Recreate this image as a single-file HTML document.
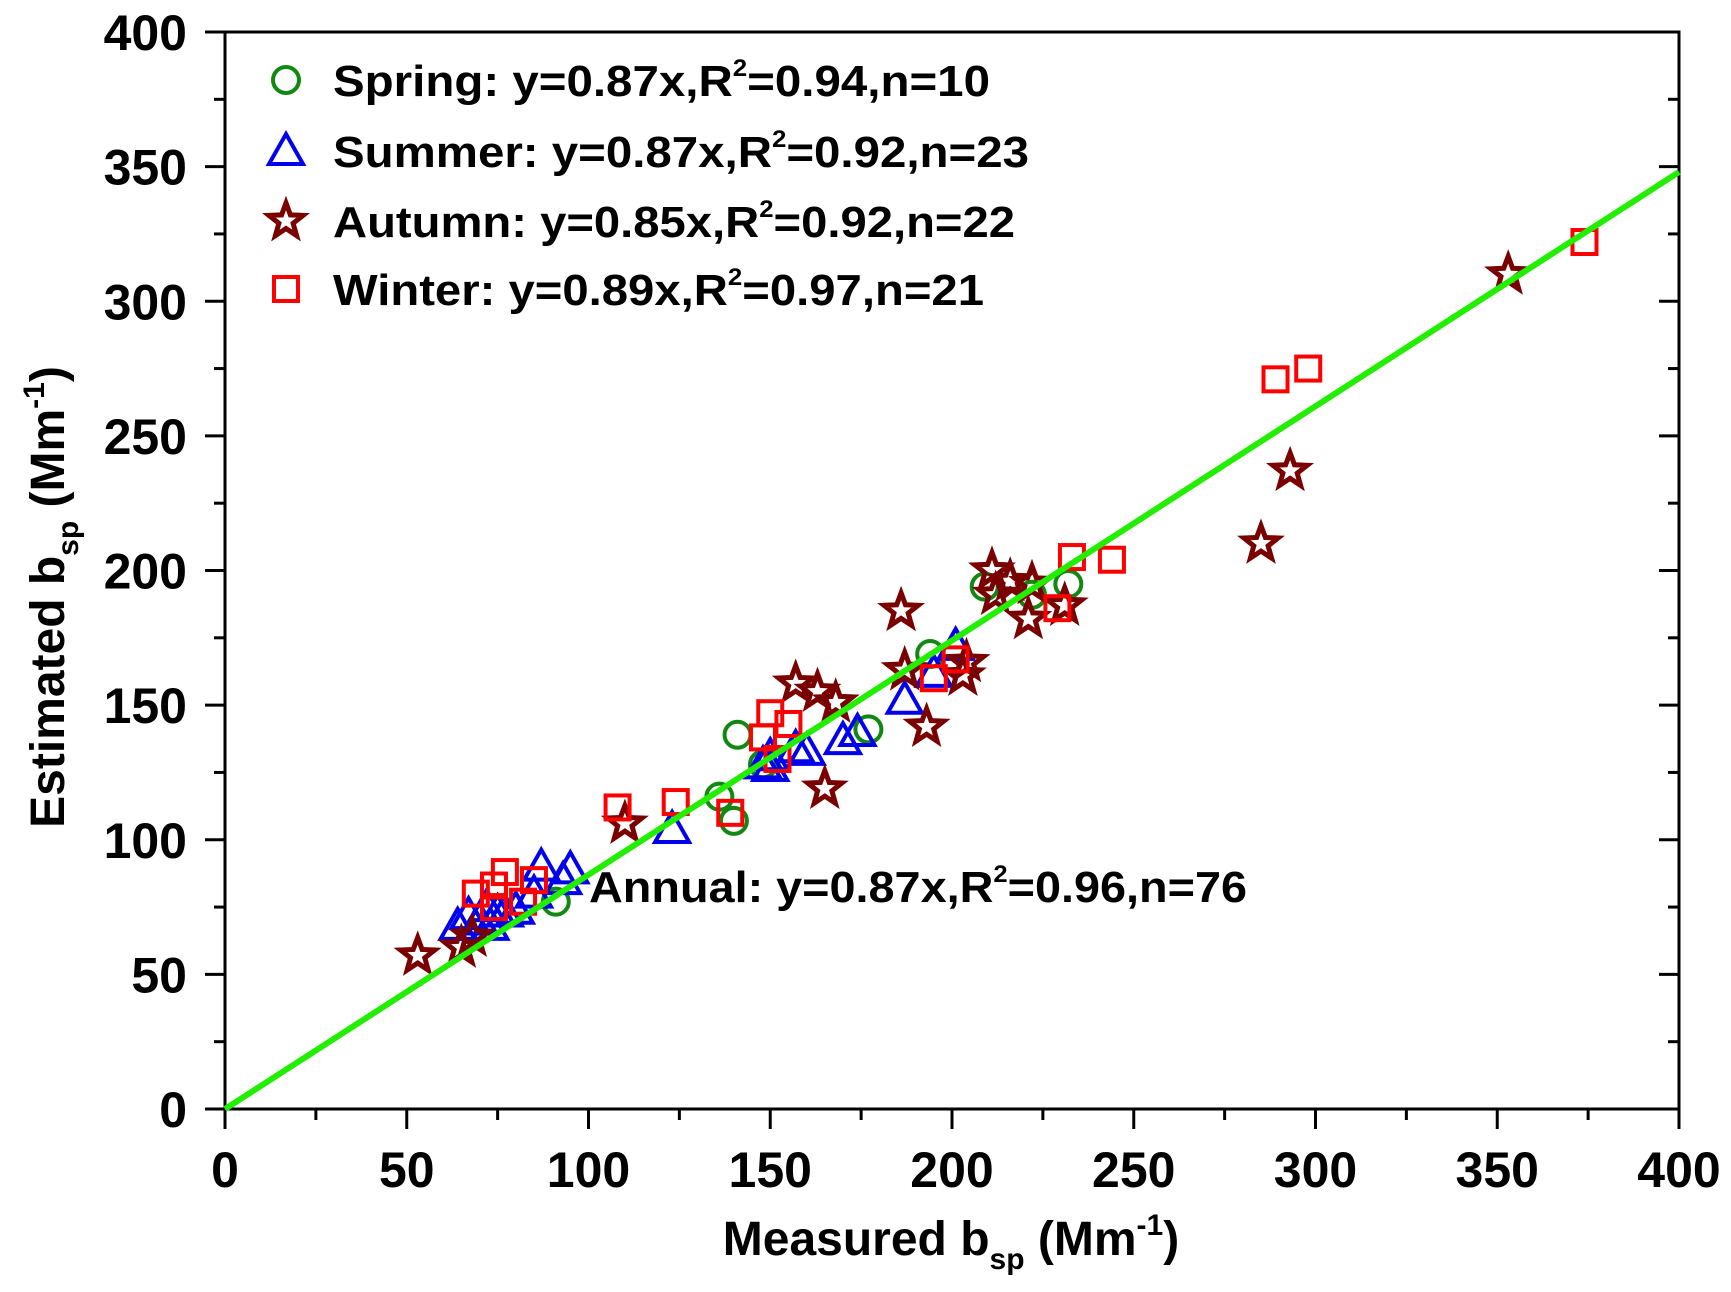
<!DOCTYPE html>
<html><head><meta charset="utf-8"><style>html,body{margin:0;padding:0;background:#fff}svg{display:block}text{font-family:"Liberation Sans",sans-serif;font-weight:bold}</style></head>
<body>
<svg id="chart" width="1731" height="1292" viewBox="0 0 1731 1292" xmlns="http://www.w3.org/2000/svg"></svg>
<script>
const xTicks=[0,50,100,150,200,250,300,350,400];
const yTicks=[0,50,100,150,200,250,300,350,400];
const springX=[141,136,140,91,148,177,194,209,232,222];
const springY=[139,116,107,77,128,141,169,194,195,191];
const summerX=[64,67,70,73,75,80,87,95,93,85,123,148,150,157,160,170,174,187,195,201,150,77,72];
const summerY=[68,72,70,68,73,74,90,89,85,80,104,128,127,134,133,137,140,152,162,172,131,73,75];
const autumnX=[53,65,110,157,163,168,165,186,193,187,203,204,211,212,216,222,221,231,285,293,353,68];
const autumnY=[57,60,106,158,155,151,119,185,142,163,161,166,200,191,196,195,182,187,210,237,310,64];
const winterX=[69,74,77,74,82,85,108,124,139,148,150,152,195,201,229,233,244,289,298,374,155];
const winterY=[80,83,88,75,77,85,112,114,110,138,147,130,160,167,186,205,204,271,275,322,143];
const fitSlope=[0.87];
const L=225,R=1679,T=32,B=1109;
const sx=v=>L+v/400*(R-L), sy=v=>B-v/400*(B-T);
const svg=document.getElementById('chart');const NS='http://www.w3.org/2000/svg';
function mk(tag,attrs,parent){const e=document.createElementNS(NS,tag);for(const k in attrs)e.setAttribute(k,attrs[k]);(parent||svg).appendChild(e);return e;}
// frame
let fr=mk('rect',{x:L,y:T,width:R-L,height:B-T,fill:'none',stroke:'#000','stroke-width':3});


for(let v=0;v<=400;v+=25){
  const major=v%50===0;
  let t=mk('line',{x1:sx(v),x2:sx(v),y1:B,y2:B+(major?20:11),stroke:'#000','stroke-width':3});
  
  
  let u=mk('line',{x1:L,x2:L-(major?20:11),y1:sy(v),y2:sy(v),stroke:'#000','stroke-width':3});
  
  
  let w=mk('line',{x1:R,x2:R-(major?20:11),y1:sy(v),y2:sy(v),stroke:'#000','stroke-width':3});
  
  
}
xTicks.forEach(v=>{let t=mk('text',{x:sx(v),y:1187,'font-size':50,'text-anchor':'middle'});t.textContent=v;
  
  });
yTicks.forEach(v=>{let t=mk('text',{x:187,y:sy(v)+18,'font-size':50,'text-anchor':'end'});t.textContent=v;
  
  });
// axis titles
let xt=mk('text',{x:951,y:1255,'font-size':48,'text-anchor':'middle'});
xt.innerHTML='Measured b<tspan font-size="30" dy="14">sp</tspan><tspan dy="-14"> (Mm</tspan><tspan font-size="30" dy="-20">-1</tspan><tspan dy="20">)</tspan>';


let yt=mk('text',{x:0,y:0,'font-size':48,'text-anchor':'middle',transform:'translate(64,597) rotate(-90)'});
yt.innerHTML='Estimated b<tspan font-size="30" dy="14">sp</tspan><tspan dy="-14"> (Mm</tspan><tspan font-size="30" dy="-20">-1</tspan><tspan dy="20">)</tspan>';


// markers
function circle(x,y,g){mk('circle',{cx:x,cy:y,r:13,fill:'none',stroke:'#118811','stroke-width':4},g);}
function tri(x,y,g){mk('polygon',{points:`${x},${y-17} ${x+17},${y+13} ${x-17},${y+13}`,fill:'none',stroke:'#0000ee','stroke-width':4},g);}
function star(x,y,g){let p=[];for(let i=0;i<10;i++){const r=i%2?7.5:18,a=-Math.PI/2+i*Math.PI/5;p.push((x+r*Math.cos(a)).toFixed(1)+','+(y+r*Math.sin(a)).toFixed(1));}
  mk('polygon',{points:p.join(' '),fill:'none',stroke:'#7a0000','stroke-width':5,'stroke-linejoin':'miter'},g);}
function sq(x,y,g){mk('rect',{x:x-12,y:y-12,width:24,height:24,fill:'none',stroke:'#ff0000','stroke-width':4},g);}
const series=[['spring',springX,springY,circle],['summer',summerX,summerY,tri],['autumn',autumnX,autumnY,star],['winter',winterX,winterY,sq]];
series.forEach(([n,xs,ys,f])=>{const g=mk('g',{});
  
  
  xs.forEach((v,i)=>f(sx(v),sy(ys[i]),g));});
// fit line
let fl=mk('line',{x1:sx(0),y1:sy(0),x2:sx(400),y2:sy(400*fitSlope[0]),stroke:'#22ee00','stroke-width':6});


// legend
const legY=[80,151,221,289];
const legText=[['Spring: y=0.87x,R','=0.94,n=10',990],['Summer: y=0.87x,R','=0.92,n=23',1029],['Autumn: y=0.85x,R','=0.92,n=22',1015],['Winter: y=0.89x,R','=0.97,n=21',984]];
const lg=mk('g',{});


[circle,tri,star,sq].forEach((f,i)=>{f(286,legY[i],lg);
  let t=mk('text',{x:333,y:legY[i]+16,'font-size':44,textLength:legText[i][2]-333,lengthAdjust:'spacingAndGlyphs'},lg);
  t.innerHTML=legText[i][0]+'<tspan font-size="24" dy="-20">2</tspan><tspan dy="20">'+legText[i][1]+'</tspan>';
  
  });
let an=mk('text',{x:589,y:902,'font-size':44,textLength:658,lengthAdjust:'spacingAndGlyphs'});
an.innerHTML='Annual: y=0.87x,R<tspan font-size="24" dy="-20">2</tspan><tspan dy="20">=0.96,n=76</tspan>';


</script>
</body></html>
